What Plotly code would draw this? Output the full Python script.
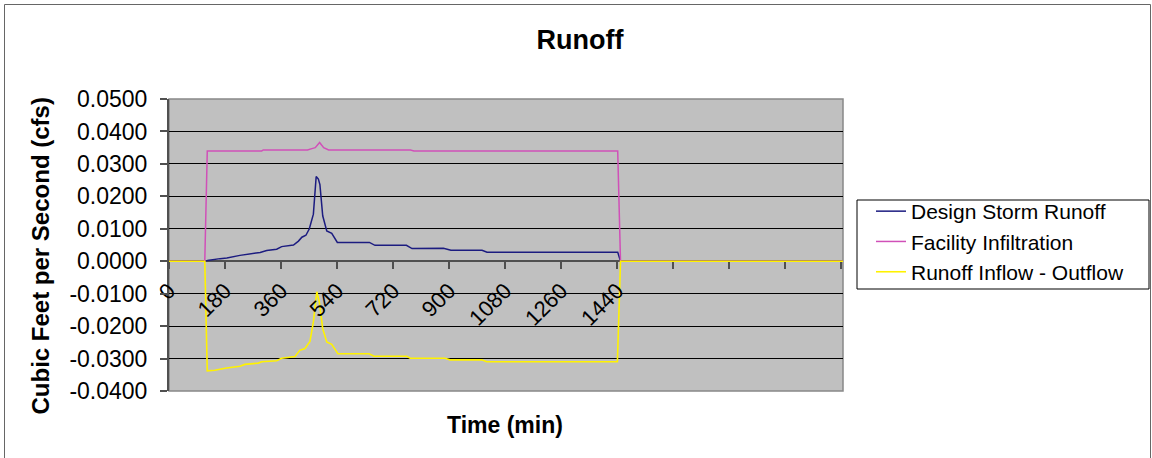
import plotly.graph_objects as go

FONT = "Arial, 'Liberation Sans', sans-serif"

# ---- data (time in minutes on the chart's category scale, flow in cfs) ----
time_runoff = [0, 115, 123, 164, 186, 228, 250, 282, 293, 314, 346, 362, 400, 416,
               427, 440, 451, 464, 473, 480, 485, 494, 507, 523, 541, 644, 662,
               763, 781, 882, 906, 1006, 1022, 1442, 1447, 1451, 2166]
design_storm_runoff = [0.0, 0.0, 0.0002, 0.0008, 0.0010, 0.0018, 0.0021, 0.0025,
                       0.0027, 0.0033, 0.0037, 0.0045, 0.0050, 0.0062, 0.0074,
                       0.0080, 0.0100, 0.0145, 0.0261, 0.0253, 0.0236, 0.0140,
                       0.0093, 0.0086, 0.0058, 0.0058, 0.0049, 0.0049, 0.0039,
                       0.0040, 0.0034, 0.0034, 0.0028, 0.0028, 0.0013, 0.0, 0.0]

time_infil = [0, 115, 123, 298, 303, 445, 459, 470, 484, 497, 513, 776, 787,
              1442, 1451, 2166]
facility_infiltration = [0.0, 0.0, 0.0340, 0.0340, 0.0343, 0.0343, 0.0347, 0.0350,
                         0.0366, 0.0350, 0.0343, 0.0343, 0.0340, 0.0340, 0.0, 0.0]

time_net = [0, 115, 123, 147, 185, 228, 244, 287, 298, 346, 362, 405, 421, 437,
            453, 464, 475, 483, 494, 507, 523, 543, 643, 659, 764, 775, 887, 903,
            1005, 1021, 1441, 1451, 2166]
runoff_inflow_outflow = [0.0, 0.0, -0.0338, -0.0336, -0.0329, -0.0324, -0.0318,
                         -0.0314, -0.0310, -0.0307, -0.0299, -0.0294, -0.0274,
                         -0.0269, -0.0247, -0.0187, -0.0094, -0.0125, -0.0208,
                         -0.0249, -0.0256, -0.0285, -0.0285, -0.0293, -0.0293,
                         -0.0299, -0.0299, -0.0304, -0.0304, -0.0310, -0.0310,
                         0.0, 0.0]

x_tick_vals = [0, 180, 360, 540, 720, 900, 1080, 1260, 1440, 1620, 1800, 1980, 2160]
x_tick_text = ["0", "180", "360", "540", "720", "900", "1080", "1260", "1440",
               "", "", "", ""]
y_tick_vals = [0.05, 0.04, 0.03, 0.02, 0.01, 0.0, -0.01, -0.02, -0.03, -0.04]
y_tick_text = ["0.0500", "0.0400", "0.0300", "0.0200", "0.0100", "0.0000",
               "-0.0100", "-0.0200", "-0.0300", "-0.0400"]

fig = go.Figure()
fig.add_trace(go.Scatter(x=time_runoff, y=design_storm_runoff, mode="lines",
                         name="Design Storm Runoff",
                         line=dict(color="#1c1c80", width=1.5)))
fig.add_trace(go.Scatter(x=time_infil, y=facility_infiltration, mode="lines",
                         name="Facility Infiltration",
                         line=dict(color="#d050b8", width=1.5)))
fig.add_trace(go.Scatter(x=time_net, y=runoff_inflow_outflow, mode="lines",
                         name="Runoff Inflow - Outflow",
                         line=dict(color="#fff200", width=1.6)))

W, H = 1152, 458
L, R, T, B = 169, 309, 99, 67
pw, ph = W - L - R, H - T - B


def px_x(px):
    return (px - L) / pw


def px_y(py):
    return (H - B - py) / ph


fig.update_layout(
    width=W, height=H,
    margin=dict(l=L, r=R, t=T, b=B, pad=0),
    paper_bgcolor="white",
    plot_bgcolor="#c0c0c0",
    font=dict(family=FONT, color="black"),
    title=dict(text="<b>Runoff</b>", font=dict(size=27, family=FONT, color="black"),
               xref="container", x=580 / W, yref="container", y=1 - 40 / H,
               xanchor="center", yanchor="middle"),
    showlegend=True,
    legend=dict(xref="container", yref="container", x=871 / W, y=1 - 191 / H,
                xanchor="left", yanchor="top", bgcolor="rgba(0,0,0,0)",
                borderwidth=0,
                font=dict(size=21, family=FONT, color="black"),
                itemwidth=30, tracegroupgap=0),
    xaxis=dict(range=[0, 2166], tickmode="array", tickvals=x_tick_vals,
               ticktext=x_tick_text, tickangle=-45, ticks="outside", ticklen=7,
               tickwidth=1.5, tickcolor="#505050", showgrid=False, zeroline=False,
               showline=False, anchor="free", position=4 / 9,
               tickfont=dict(size=22, family=FONT, color="black")),
    yaxis=dict(range=[-0.04, 0.05], tickmode="array", tickvals=y_tick_vals,
               ticktext=y_tick_text, ticks="outside", ticklen=7, tickwidth=1.5,
               tickcolor="#505050", showgrid=True, gridcolor="black", gridwidth=1,
               zeroline=True, zerolinecolor="#505050", zerolinewidth=2,
               showline=True, linecolor="#505050", linewidth=2,
               ticklabelstandoff=8,
               tickfont=dict(size=23, family=FONT, color="black")),
    annotations=[
        dict(text="<b>Cubic Feet per Second (cfs)</b>", textangle=-90,
             xref="paper", yref="paper", x=px_x(40), y=px_y(256.5),
             xanchor="center", yanchor="middle", showarrow=False,
             font=dict(size=24, family=FONT, color="black")),
        dict(text="<b>Time (min)</b>",
             xref="paper", yref="paper", x=px_x(505), y=px_y(425),
             xanchor="center", yanchor="middle", showarrow=False,
             font=dict(size=23, family=FONT, color="black")),
    ],
    shapes=[
        # plot area border
        dict(type="rect", xref="paper", yref="paper", x0=0, x1=1, y0=0, y1=1,
             line=dict(color="#888888", width=1.5), layer="below"),
        # chart area border
        dict(type="rect", xref="paper", yref="paper", x0=px_x(4.5), x1=px_x(1150.5),
             y0=px_y(470), y1=px_y(4.5), line=dict(color="#666666", width=1),
             layer="below"),
        # legend box
        dict(type="rect", xref="paper", yref="paper", x0=px_x(857), x1=px_x(1149),
             y0=px_y(289), y1=px_y(200), line=dict(color="black", width=1),
             fillcolor="white", layer="below"),
    ],
)

fig.write_html("out.html")
